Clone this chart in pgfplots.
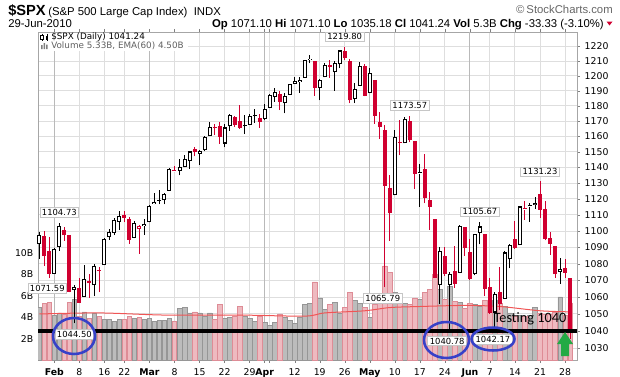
\documentclass[border=0pt]{standalone}
\usepackage{fontspec}
\usepackage{pgfplots}
\usepackage{pgfplotstable}
\pgfplotsset{compat=1.18}
\setmainfont{DejaVu Sans}
\newfontfamily\hfont{Liberation Sans}
\newfontfamily\cfont{Carlito}

\definecolor{candred}{RGB}{208,0,48}
\definecolor{volgrey}{RGB}{188,188,188}
\definecolor{volgreyd}{RGB}{150,150,150}
\definecolor{volpink}{RGB}{238,186,192}
\definecolor{volpinkd}{RGB}{222,140,150}
\definecolor{emared}{RGB}{240,85,85}
\definecolor{gridc}{RGB}{222,222,222}
\definecolor{gridm}{RGB}{185,185,185}
\definecolor{annblue}{RGB}{55,65,200}
\definecolor{arrowgreen}{RGB}{34,170,68}

% i = trading day index (0 = 27-Jan-2010), r = 1 if close below previous close, v = volume (billions)
\pgfplotstableread{
i o h l c r v
0 1091.94 1099.51 1083.11 1097.50 0 4.9
1 1096.93 1100.22 1078.46 1084.53 1 5.3
2 1087.61 1096.45 1071.59 1073.87 1 5.4
3 1073.89 1089.38 1073.89 1089.19 0 4.2
4 1090.05 1104.73 1087.96 1103.32 0 4.4
5 1100.67 1102.72 1093.97 1097.28 1 4.3
6 1097.25 1097.25 1062.78 1063.11 1 5.4
7 1064.12 1067.13 1044.50 1066.19 0 5.7
8 1065.51 1071.20 1056.51 1056.74 1 4.1
9 1060.06 1079.28 1060.06 1070.52 0 4.5
10 1069.68 1073.67 1059.34 1068.13 1 3.9
11 1067.10 1080.04 1060.59 1078.47 0 4.4
12 1075.95 1077.81 1062.97 1075.51 1 4.1
13 1079.13 1095.67 1079.13 1094.87 0 3.8
14 1096.14 1101.03 1094.72 1099.51 0 3.8
15 1099.03 1108.24 1097.48 1106.75 0 3.6
16 1105.49 1112.42 1100.80 1109.17 0 3.8
17 1110.00 1112.29 1105.38 1108.01 1 3.8
18 1107.49 1108.58 1092.18 1094.60 1 4.1
19 1095.89 1106.42 1095.50 1105.24 0 3.9
20 1101.24 1103.50 1086.02 1102.94 1 4.0
21 1103.10 1107.24 1097.56 1104.49 0 3.8
22 1105.36 1116.11 1105.36 1115.71 0 3.9
23 1117.01 1123.46 1116.51 1118.31 0 3.6
24 1119.36 1125.64 1116.58 1118.79 0 3.7
25 1119.12 1123.73 1116.66 1122.97 0 3.7
26 1125.12 1139.38 1125.12 1138.70 0 3.9
27 1138.40 1141.05 1136.77 1138.50 1 3.6
28 1137.56 1145.37 1134.90 1140.45 0 4.8
29 1140.22 1148.26 1140.09 1145.61 0 4.9
30 1143.96 1150.24 1138.99 1150.24 0 4.4
31 1151.71 1153.41 1146.97 1149.99 1 4.5
32 1148.53 1150.98 1141.45 1150.51 0 4.4
33 1150.83 1160.28 1150.35 1159.46 0 4.1
34 1159.94 1169.20 1159.94 1166.21 0 4.4
35 1166.13 1167.77 1161.16 1165.83 1 3.8
36 1166.68 1169.20 1155.33 1159.90 1 5.2
37 1155.35 1167.82 1152.88 1165.81 0 3.9
38 1166.47 1174.72 1163.83 1174.17 0 4.0
39 1172.70 1173.04 1166.01 1167.72 1 4.1
40 1170.03 1180.69 1165.09 1165.73 1 5.0
41 1167.58 1173.93 1161.48 1166.59 0 4.1
42 1167.71 1174.85 1167.71 1173.22 0 3.9
43 1173.75 1177.83 1168.92 1173.27 0 3.6
44 1171.75 1174.56 1165.77 1169.43 1 4.1
45 1171.23 1181.43 1170.69 1178.10 0 3.5
46 1178.71 1187.73 1178.71 1187.44 0 3.2
47 1186.01 1191.80 1182.77 1189.44 0 3.5
48 1188.23 1189.60 1177.25 1182.45 1 4.3
49 1181.75 1188.55 1175.12 1186.44 0 4.0
50 1187.47 1194.66 1187.15 1194.37 0 3.7
51 1194.94 1199.20 1194.71 1196.48 0 3.4
52 1195.94 1199.04 1188.82 1197.30 0 4.0
53 1198.69 1210.65 1198.69 1210.65 0 5.2
54 1210.77 1213.92 1208.50 1211.67 0 5.3
55 1210.17 1210.17 1186.77 1192.13 1 7.3
56 1192.06 1197.87 1183.68 1197.52 0 5.8
57 1199.04 1208.58 1199.04 1207.17 0 4.7
58 1207.16 1210.99 1198.85 1205.94 1 5.2
59 1202.52 1210.27 1190.19 1208.67 0 5.4
60 1207.87 1217.28 1205.10 1217.28 0 4.4
61 1217.07 1219.80 1211.07 1212.05 1 4.9
62 1209.92 1211.38 1181.62 1183.71 1 6.3
63 1184.59 1195.05 1181.81 1191.36 0 5.6
64 1193.30 1209.36 1193.30 1206.78 0 5.3
65 1206.77 1207.99 1186.32 1186.69 1 4.9
66 1188.58 1205.13 1188.58 1202.26 0 4.0
67 1197.50 1197.50 1168.12 1173.60 1 5.2
68 1169.24 1175.95 1158.15 1165.87 1 5.3
69 1164.38 1167.58 1065.79 1128.15 1 8.8
70 1127.04 1135.13 1094.15 1110.88 1 8.2
71 1122.27 1163.85 1122.27 1159.73 0 6.3
72 1156.39 1170.48 1147.71 1155.79 1 5.8
73 1155.43 1172.87 1155.43 1171.67 0 5.3
74 1170.04 1173.57 1156.14 1157.44 1 5.2
75 1157.19 1157.19 1126.14 1135.68 1 5.8
76 1136.52 1141.88 1114.96 1136.94 0 5.7
77 1138.78 1148.66 1117.20 1120.80 1 6.3
78 1119.57 1124.27 1100.66 1115.05 1 6.6
79 1107.34 1107.34 1071.58 1071.59 1 8.0
80 1067.26 1090.16 1055.90 1087.69 0 6.6
81 1084.78 1089.95 1072.70 1073.65 1 5.7
82 1067.42 1074.75 1040.78 1074.03 0 6.9
83 1075.51 1090.75 1065.59 1067.95 1 5.5
84 1074.27 1103.52 1074.27 1103.06 0 5.4
85 1102.59 1102.59 1084.78 1089.41 1 4.8
86 1087.30 1094.77 1069.89 1070.71 1 5.3
87 1073.89 1098.42 1072.94 1098.38 0 5.2
88 1098.82 1105.67 1091.81 1102.83 0 5.0
89 1098.43 1098.43 1060.50 1064.88 1 5.6
90 1065.84 1071.36 1049.86 1050.47 1 5.0
91 1050.81 1063.15 1042.17 1062.00 0 5.6
92 1062.75 1077.74 1052.25 1055.69 1 5.3
93 1058.77 1087.85 1058.77 1086.84 0 5.0
94 1082.65 1092.25 1077.12 1091.60 0 4.4
95 1095.00 1105.91 1089.03 1089.63 1 4.1
96 1091.21 1115.59 1091.21 1115.23 0 4.2
97 1114.02 1118.74 1107.13 1114.61 1 4.1
98 1115.98 1117.72 1105.87 1116.04 0 4.2
99 1116.16 1121.01 1113.93 1117.51 0 4.9
100 1122.79 1131.23 1108.24 1113.20 1 4.4
101 1113.90 1118.50 1094.18 1095.31 1 4.3
102 1095.57 1099.64 1085.31 1092.04 1 4.3
103 1090.93 1090.93 1071.60 1073.69 1 4.5
104 1075.10 1083.56 1067.89 1076.76 0 5.9
105 1077.50 1082.60 1071.45 1074.57 1 4.2
106 1071.10 1071.10 1035.18 1041.24 1 5.33
}\ohlc

\pgfplotsset{base/.style={at={(28.5pt,12pt)}, anchor=south west, width=404.25pt, height=246pt,
  scale only axis, xmin=-0.26, xmax=107.39},
  candle/.style 2 args={draw=none, mark=none, forget plot,
    error bars/y dir=plus, error bars/y explicit, error bars/error mark=none,
    error bars/error bar style={draw=#1, line width=#2}}}

\begin{document}
\begin{tikzpicture}
\path[use as bounding box] (0,0) rectangle (465pt,282pt);

% ---- axis A: frame, grid, date and price ticks
\begin{axis}[base, ymode=log, ymin=1023.26, ymax=1230.1,
  axis line style={draw=gray!70},
  grid=major, major grid style={draw=gridc, line width=0.75pt},
  ytick={1030,1040,1050,1060,1070,1080,1090,1100,1110,1120,1130,1140,1150,1160,1170,1180,1190,1200,1210,1220},
  yticklabels={1030,1040,1050,1060,1070,1080,1090,1100,1110,1120,1130,1140,1150,1160,1170,1180,1190,1200,1210,1220},
  ytick pos=right, yticklabel pos=right, tick align=outside, major tick length=2.25pt,
  xtick={8,13,17,27,32,37,42,46,51,56,61,71,76,81,90,95,100,105},
  xticklabels={8,16,22,8,15,22,29,{},12,19,26,10,17,24,7,14,21,28},
  extra x ticks={3,22,45,66,86},
  extra x tick labels={\textbf{Feb},\textbf{Mar},\textbf{Apr},\textbf{May},\textbf{Jun}},
  extra x tick style={grid=major, major grid style={draw=gridm, line width=0.75pt}},
  ticklabel style={font=\fontsize{7}{8}\selectfont},
  xticklabel style={yshift=-0.5pt},
]
\addplot[draw=none, forget plot] coordinates {(0,1100) (1,1100)};
\end{axis}

% ---- axis B: volume
\begin{axis}[base, ymin=0, ymax=30.65,
  axis line style={draw=none},
  xtick=\empty,
  ytick={2,4,6,8,10}, yticklabels={2B,4B,6B,8B,10B},
  major tick length=0pt,
  yticklabel style={font=\fontsize{7}{8}\selectfont},
]
\addplot[ybar, bar width=3.4pt, bar shift=0pt, fill=volgrey, draw=volgreyd, line width=0.4pt,
  restrict expr to domain={\thisrow{r}}{-0.5:0.5}] table[x=i, y=v] \ohlc;
\addplot[ybar, bar width=3.4pt, bar shift=0pt, fill=volpink, draw=volpinkd, line width=0.4pt,
  restrict expr to domain={\thisrow{r}}{0.5:1.5}] table[x=i, y=v] \ohlc;
\addplot[emared, line width=0.75pt, smooth] coordinates {
  (0,4.3) (12,4.4) (25,4.2) (40,4.2) (53,4.1) (57,4.4) (65,4.6) (70,4.9) (76,5.0) (85,5.1) (92,5.0) (100,4.6) (106,4.5)};
\end{axis}

% ---- axis C: candles and annotations
\begin{axis}[base, ymode=log, ymin=1023.26, ymax=1230.1, hide axis, clip=false]
% wicks
\addplot[candle={black}{0.75pt}, restrict expr to domain={\thisrow{r}}{-0.5:0.5}]
  table[x=i, y=l, y error expr={\thisrow{h}-\thisrow{l}}] \ohlc;
\addplot[candle={candred}{0.75pt}, restrict expr to domain={\thisrow{r}}{0.5:1.5}]
  table[x=i, y=l, y error expr={\thisrow{h}-\thisrow{l}}] \ohlc;
% bodies: black filled (0), black hollow (1), red filled (2), red hollow (3)
\addplot[candle={black}{3pt}, restrict expr to domain={2*\thisrow{r}+(\thisrow{c}>\thisrow{o})}{-0.5:0.5}]
  table[x=i, y expr={min(\thisrow{o},\thisrow{c})}, y error expr={max(abs(\thisrow{c}-\thisrow{o}),0.6)}] \ohlc;
\addplot[candle={candred}{3pt}, restrict expr to domain={2*\thisrow{r}+(\thisrow{c}>\thisrow{o})}{1.5:2.5}]
  table[x=i, y expr={min(\thisrow{o},\thisrow{c})}, y error expr={max(abs(\thisrow{c}-\thisrow{o}),0.6)}] \ohlc;
\addplot[candle={black}{3pt}, restrict expr to domain={2*\thisrow{r}+(\thisrow{c}>\thisrow{o})}{0.5:1.5}]
  table[x=i, y expr={min(\thisrow{o},\thisrow{c})}, y error expr={abs(\thisrow{c}-\thisrow{o})}] \ohlc;
\addplot[candle={white}{1.5pt}, restrict expr to domain={2*\thisrow{r}+(\thisrow{c}>\thisrow{o})}{0.5:1.5},
  error bars/error bar style={shorten <=0.8pt, shorten >=0.8pt}]
  table[x=i, y expr={min(\thisrow{o},\thisrow{c})}, y error expr={abs(\thisrow{c}-\thisrow{o})}] \ohlc;
\addplot[candle={candred}{3pt}, restrict expr to domain={2*\thisrow{r}+(\thisrow{c}>\thisrow{o})}{2.5:3.5}]
  table[x=i, y expr={min(\thisrow{o},\thisrow{c})}, y error expr={abs(\thisrow{c}-\thisrow{o})}] \ohlc;
\addplot[candle={white}{1.5pt}, restrict expr to domain={2*\thisrow{r}+(\thisrow{c}>\thisrow{o})}{2.5:3.5},
  error bars/error bar style={shorten <=0.8pt, shorten >=0.8pt}]
  table[x=i, y expr={min(\thisrow{o},\thisrow{c})}, y error expr={abs(\thisrow{c}-\thisrow{o})}] \ohlc;
% 1040 support line
\addplot[black, line width=2.4pt, forget plot] coordinates {(-0.26,1040) (107.39,1040)};
% value labels
\tikzset{lbl/.style={draw=gray!45, fill=white, line width=0.6pt, inner xsep=1.5pt, inner ysep=1.2pt,
  font=\fontsize{6.3}{7}\selectfont}}
\node[lbl, yshift=7.5pt] at (axis cs:61,1219.80) {1219.80};
\node[lbl, yshift=8pt] at (axis cs:4,1104.73) {1104.73};
\node[lbl, yshift=7.5pt] at (axis cs:74,1173.57) {1173.57};
\node[lbl, yshift=7.5pt] at (axis cs:88,1105.67) {1105.67};
\node[lbl, yshift=7pt] at (axis cs:100,1131.23) {1131.23};
\node[lbl, yshift=-8pt, xshift=-1.5pt] at (axis cs:2,1071.59) {1071.59};
\node[lbl, yshift=-8.5pt] at (axis cs:7,1044.50) {1044.50};
\node[lbl, yshift=-8.5pt, xshift=-1.5pt] at (axis cs:69,1065.79) {1065.79};
\node[lbl, yshift=-8.5pt, xshift=-2pt] at (axis cs:82,1040.78) {1040.78};
\node[lbl, yshift=-9pt, xshift=-1.5pt] at (axis cs:91,1042.17) {1042.17};
\end{axis}

\begin{scope}[x=0.75pt, y=-0.75pt, shift={(0pt,282pt)}]
% ---- blue circles, arrow, note
\draw[annblue, line width=1.9pt] (74,336) ellipse [x radius=21, y radius=18];
\draw[annblue, line width=1.9pt] (446.5,340) ellipse [x radius=22.5, y radius=18];
\draw[annblue, line width=1.9pt] (493,339) ellipse [x radius=21.5, y radius=11.5];
\node[font=\cfont\fontsize{10.7}{12}\selectfont, inner sep=0] at (530,319) {Testing 1040};
\fill[arrowgreen] (565,332) -- (573,344) -- (569,344) -- (569,356) -- (561,356) -- (561,344) -- (557,344) -- cycle;

% ---- legend inside plot
\fill[white] (38.6,32.6) rectangle (188,50.5);
\draw[black, line width=0.75pt] (42,33.5) -- (42,40.5);
\draw[black, fill=white, line width=0.6pt] (40.7,35) rectangle (43.3,39);
\draw[black, line width=0.75pt] (47,33.5) -- (47,40.5);
\fill[black] (45.7,35.5) rectangle (48.3,39.5);
\node[anchor=west, font=\fontsize{6.6}{8}\selectfont, inner sep=0] at (51,37) {\$SPX (Daily) 1041.24};
\fill[gray] (41,45) rectangle (42.5,49) (43.5,43) rectangle (45,49) (46,44.5) rectangle (47.5,49);
\node[anchor=west, font=\fontsize{6.6}{8}\selectfont, text=gray!75!black, inner sep=0] at (51,46) {Volume 5.33B, EMA(60) 4.50B};

% ---- header
\node[anchor=base west, font=\hfont\bfseries\fontsize{11}{12}\selectfont, inner sep=0] at (8,15.5) {\$SPX};
\node[anchor=base west, font=\hfont\fontsize{8.5}{10}\selectfont, inner sep=0] at (48,15.5) {(S\&P 500 Large Cap Index)\ \ INDX};
\node[anchor=base east, font=\hfont\fontsize{8.5}{10}\selectfont, text=gray!80!black, inner sep=0] at (613,13) {\textcopyright\,StockCharts.com};
\node[anchor=base west, font=\hfont\fontsize{8.5}{10}\selectfont, inner sep=0] at (8,27) {29-Jun-2010};
\node[anchor=base east, font=\hfont\fontsize{8.5}{10}\selectfont, inner sep=0] at (604,27)
  {\textbf{Op} 1071.10 \textbf{Hi} 1071.10 \textbf{Lo} 1035.18 \textbf{Cl} 1041.24 \textbf{Vol} 5.3B \textbf{Chg} -33.33 (-3.10\%)};
\fill[candred] (606.5,21.5) -- (612.5,21.5) -- (609.5,25.5) -- cycle;
\end{scope}
\end{tikzpicture}
\end{document}
